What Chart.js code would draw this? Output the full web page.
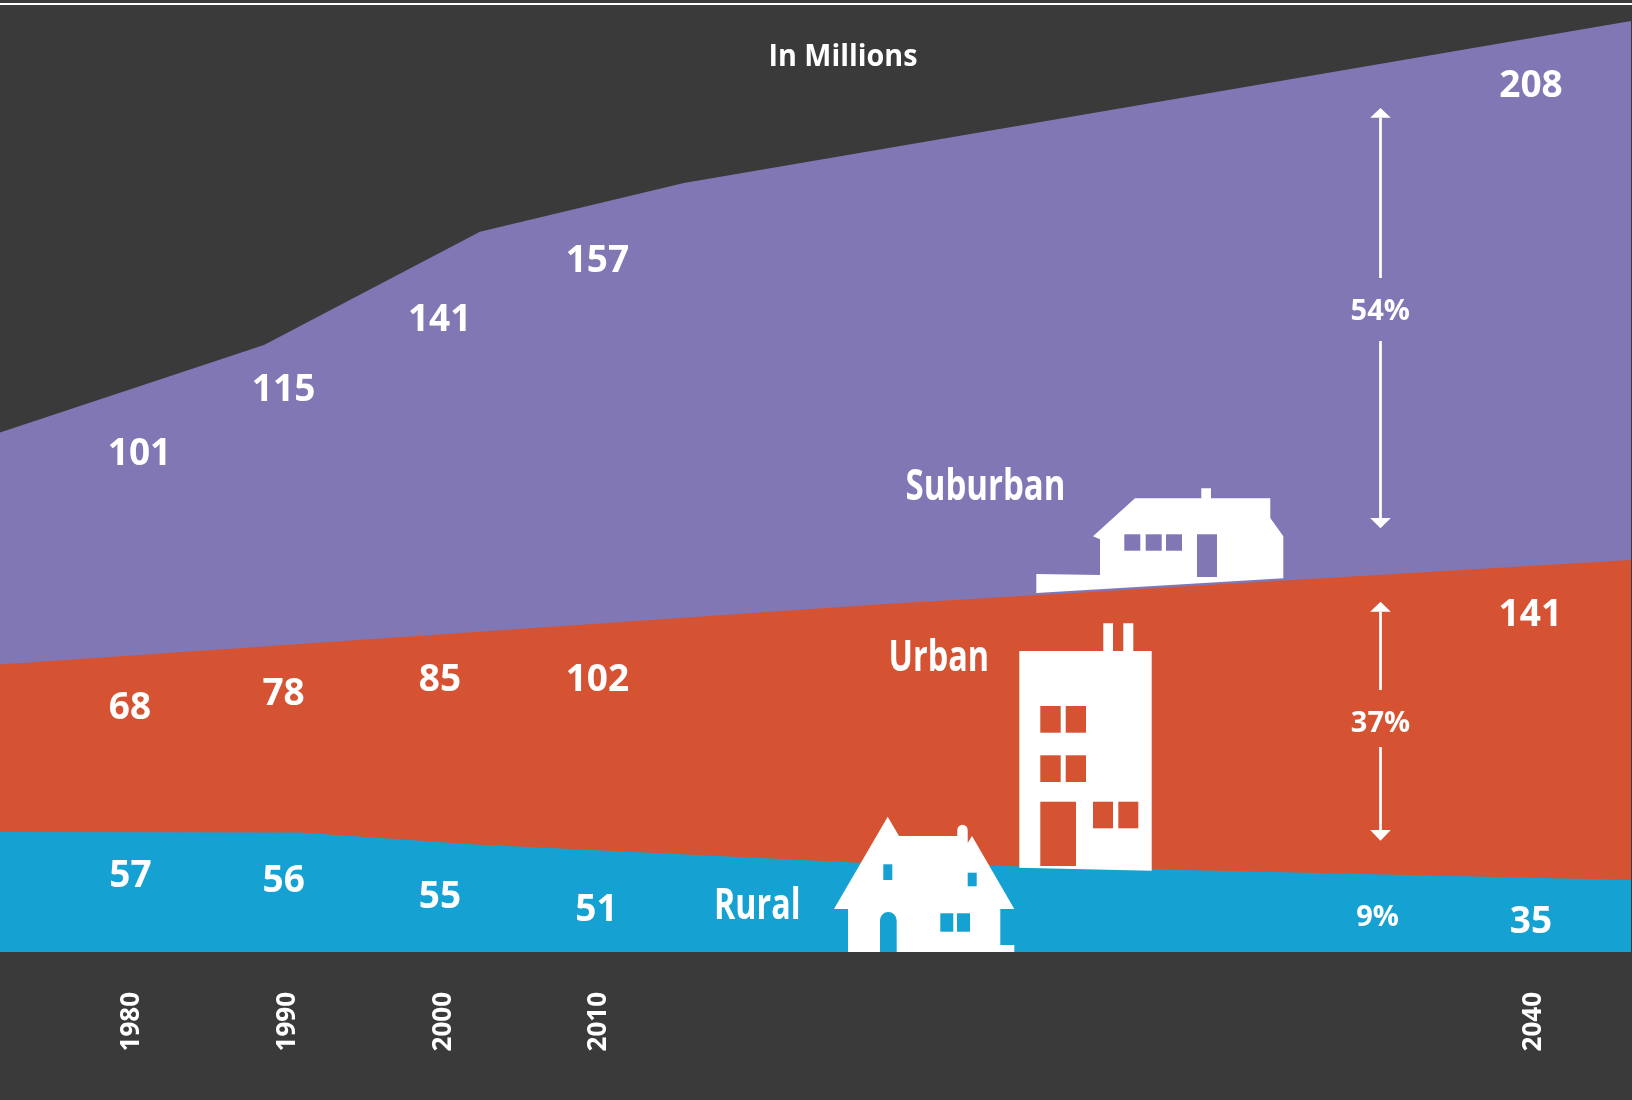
<!DOCTYPE html>
<html>
<head>
<meta charset="utf-8">
<style>
html,body{margin:0;padding:0;background:#3a3a3a;}
#wrap{position:relative;width:1632px;height:1100px;overflow:hidden;}
canvas{display:block;}
</style>
<script src="https://cdn.jsdelivr.net/npm/chart.js@4/dist/chart.umd.min.js"></script>
</head>
<body>
<div id="wrap"><canvas id="c" width="1632" height="1100"></canvas></div>
<script>
// ---- values printed on the chart (millions) ----
const yearLabels = ["1980", "1990", "2000", "2010", "2040"];
const yearSlots = [0, 1, 2, 3, 9.007];
const ruralValues = [57, 56, 55, 51, 35];
const urbanValues = [68, 78, 85, 102, 141];
const suburbanValues = [101, 115, 141, 157, 208];
const shareLabels = ["54%", "37%", "9%"];
const seriesNames = ["Suburban", "Urban", "Rural"];

// ---- upper edge of each band ----
const ruralEdgeX = [-0.8355, 1.093, 2.192, 4.692, 6.555, 9.6466];
const ruralEdgeY = [50.0, 49.8, 44.9, 37.2, 34.5, 30.0];
const urbanEdgeX = [-0.8355, 4.756, 9.6466];
const urbanEdgeY = [119.75, 144.6, 163.3];
const suburbanEdgeX = [-0.8355, 0.861, 2.249, 3.56, 9.6466];
const suburbanEdgeY = [216.5, 252.9, 300.1, 320.4, 388.0];

const C = {dark:"#3a3a3a", purple:"#8277b5", red:"#d55332", blue:"#15a2d2", white:"#ffffff"};
const FONT = '"Open Sans"';

function pts(xs, ys){ return xs.map((x,i)=>({x:x,y:ys[i]})); }

// label layout (page pixels): centre x, baseline y
const ruralPos = [[130.5,886.5],[283.7,892],[440,908],[596.4,920.5],[1531,932.5]];
const urbanPos = [[130,719],[283.6,704.5],[440,691],[597.4,691],[1530.3,625.5]];
const suburbanPos = [[139.5,464.5],[283.6,400.5],[439.7,330.5],[597.4,271.5],[1531,96.5]];

function poly(ctx, p, color){
  ctx.fillStyle = color;
  ctx.beginPath();
  p.forEach((q,i)=> i ? ctx.lineTo(q[0],q[1]) : ctx.moveTo(q[0],q[1]));
  ctx.closePath(); ctx.fill();
}
function rects(ctx, list, color){
  ctx.fillStyle = color;
  list.forEach(r=>ctx.fillRect(r[0],r[1],r[2]-r[0],r[3]-r[1]));
}
function text(ctx, s, x, y, font){
  ctx.font = font; ctx.fillStyle = C.white;
  ctx.textAlign = "center"; ctx.textBaseline = "alphabetic";
  ctx.fillText(s, x, y);
}
function fitText(ctx, s, left, right, y, font){
  ctx.save();
  ctx.font = font; ctx.fillStyle = C.white;
  ctx.textAlign = "left"; ctx.textBaseline = "alphabetic";
  const w = ctx.measureText(s).width;
  ctx.translate(left, y);
  ctx.scale((right-left)/w, 1);
  ctx.fillText(s, 0, 0);
  ctx.restore();
}
function arrow(ctx, x, tip, base, end){
  poly(ctx, [[x,tip],[x+10.3,base],[x-10.3,base]], C.white);
  ctx.fillStyle = C.white;
  ctx.fillRect(x-1.35, Math.min(base,end), 2.7, Math.abs(end-base));
}

const decor = {
  id:"decor",
  afterDatasetsDraw(chart){
    const ctx = chart.ctx;
    ctx.save();
    // top rule
    ctx.fillStyle = C.white; ctx.fillRect(0,3,1632,2);

    // suburban house
    poly(ctx, [[1036.3,574],[1100,575],[1100,539.3],[1093,536.3],[1135,498.3],[1201.3,498.3],[1201.3,488.3],[1211,488.3],[1211,498.3],[1270.3,498.3],[1270.3,518],[1283.3,536.3],[1283.3,578.3],[1036.3,593]], C.white);
    rects(ctx, [[1124.3,534.3,1140.3,550.7],[1145.7,534.3,1161.7,550.7],[1166,534.3,1182,550.7],[1197,534.3,1217,577]], C.purple);

    // apartment building
    poly(ctx, [[1019.3,651],[1103.3,651],[1103.3,623.3],[1113,623.3],[1113,651],[1123.3,651],[1123.3,623.3],[1133.3,623.3],[1133.3,651],[1151.7,651],[1151.7,870.7],[1019.3,867.7]], C.white);
    rects(ctx, [[1040.3,706,1060.7,732.7],[1065.7,706,1086,732.7],[1040.3,755.3,1060.7,782],[1065.7,755.3,1086,782],[1040.3,801.7,1076,866],[1093,801.7,1113,828.3],[1118.3,801.7,1138.3,828.3]], C.red);

    // rural house
    ctx.fillStyle = C.white;
    ctx.beginPath();
    ctx.moveTo(848,952); ctx.lineTo(848,909); ctx.lineTo(834,909); ctx.lineTo(887.7,816.7); ctx.lineTo(899,836);
    ctx.lineTo(957.3,836); ctx.lineTo(957.3,830);
    ctx.arc(962.5,830,5.2,Math.PI,0);
    ctx.lineTo(967.7,843); ctx.lineTo(972,836); ctx.lineTo(1014.3,909); ctx.lineTo(1000.3,909); ctx.lineTo(1000.3,945);
    ctx.lineTo(1014.3,945); ctx.lineTo(1014.3,952); ctx.closePath(); ctx.fill();
    rects(ctx, [[883.3,864.3,892.3,880],[967.7,872.7,976.7,886.3],[940.3,913.3,953.3,931.7],[957,913.3,970,931.7]], C.blue);
    ctx.fillStyle = C.blue;
    ctx.beginPath();
    ctx.moveTo(880,952); ctx.lineTo(880,920.3); ctx.arc(888.3,920.3,8.35,Math.PI,0); ctx.lineTo(896.7,952); ctx.closePath(); ctx.fill();

    // share arrows
    arrow(ctx,1380.5,108,117.7,278);
    arrow(ctx,1380.5,528.3,518,341);
    arrow(ctx,1380.5,601.7,611.7,690);
    arrow(ctx,1380.5,840.7,830,747);

    // printed values
    const valFont = "bold 37px "+FONT;
    [[ruralValues,ruralPos],[urbanValues,urbanPos],[suburbanValues,suburbanPos]].forEach(([vals,pos])=>{
      vals.forEach((v,i)=>text(ctx,String(v),pos[i][0],pos[i][1],valFont));
    });

    // share labels
    const shareFont = "bold 29px "+FONT;
    text(ctx,shareLabels[0],1380.2,319.8,shareFont);
    text(ctx,shareLabels[1],1380.5,731.5,shareFont);
    text(ctx,shareLabels[2],1377.5,925.5,shareFont);

    // heading and series names
    fitText(ctx,"In Millions",768.5,917.5,66,"bold 30px "+FONT);
    const nameFont = "bold 43px "+FONT;
    fitText(ctx,seriesNames[0],905.5,1065.5,499.5,nameFont);
    fitText(ctx,seriesNames[1],888.5,989,671,nameFont);
    fitText(ctx,seriesNames[2],714,800.5,918.5,nameFont);
    ctx.restore();
  }
};

new Chart(document.getElementById("c").getContext("2d"),{
  type:"line",
  data:{datasets:[
    {label:"Rural",data:pts(ruralEdgeX,ruralEdgeY),backgroundColor:C.blue,fill:"origin",borderWidth:0,pointRadius:0,tension:0},
    {label:"Urban",data:pts(urbanEdgeX,urbanEdgeY),backgroundColor:C.red,fill:"origin",borderWidth:0,pointRadius:0,tension:0},
    {label:"Suburban",data:pts(suburbanEdgeX,suburbanEdgeY),backgroundColor:C.purple,fill:"origin",borderWidth:0,pointRadius:0,tension:0}
  ]},
  options:{
    responsive:false,
    animation:false,
    layout:{padding:{left:0,right:1,top:0,bottom:0}},
    plugins:{legend:{display:false},tooltip:{enabled:false},title:{display:false}},
    scales:{
      x:{
        type:"linear",min:-0.8355,max:9.6466,
        grid:{display:false,drawTicks:false},border:{display:false},
        afterBuildTicks:s=>{s.ticks=yearSlots.map(v=>({value:v}));},
        afterFit:s=>{s.height=148;},
        ticks:{
          autoSkip:false,minRotation:90,maxRotation:90,padding:40,labelOffset:2,color:C.white,
          font:{family:"Open Sans",size:26,weight:"bold"},
          callback:v=>{const i=yearSlots.indexOf(v);return i<0?"":yearLabels[i];}
        }
      },
      y:{display:false,min:0,max:396.7}
    }
  },
  plugins:[decor]
});
</script>
</body>
</html>
